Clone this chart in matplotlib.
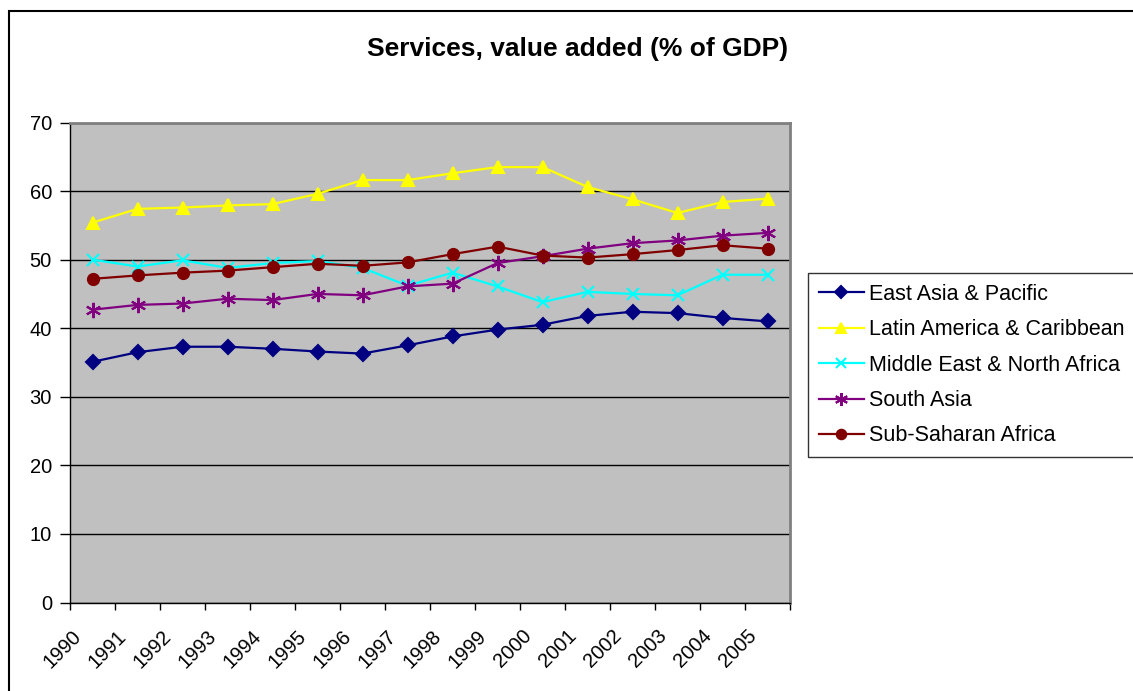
import matplotlib
matplotlib.use('Agg')
import matplotlib.pyplot as plt
import matplotlib.transforms as mtransforms
from matplotlib.patches import Rectangle
import numpy as np

plt.rcParams['font.family'] = ['Liberation Sans', 'DejaVu Sans']

years = [str(y) for y in range(1990, 2006)]

east_asia = [35.1, 36.5, 37.3, 37.3, 37.0, 36.6, 36.3, 37.5,
             38.8, 39.8, 40.5, 41.8, 42.4, 42.2, 41.5, 41.0]
latin_america = [55.4, 57.4, 57.6, 57.9, 58.1, 59.6, 61.6, 61.6,
                 62.6, 63.5, 63.5, 60.6, 58.8, 56.8, 58.4, 58.9]
middle_east = [50.0, 49.0, 49.9, 48.8, 49.5, 49.8, 48.8, 46.2,
               48.1, 46.1, 43.8, 45.3, 45.0, 44.8, 47.8, 47.8]
south_asia = [42.7, 43.4, 43.6, 44.3, 44.1, 45.0, 44.8, 46.1,
              46.5, 49.5, 50.5, 51.6, 52.4, 52.8, 53.5, 53.9]
sub_saharan = [47.2, 47.7, 48.1, 48.4, 48.9, 49.4, 49.1, 49.6,
               50.8, 51.9, 50.6, 50.3, 50.8, 51.4, 52.1, 51.6]

series = [
    ('East Asia & Pacific', east_asia, '#000080', 'D', 7),
    ('Latin America & Caribbean', latin_america, '#FFFF00', '^', 9),
    ('Middle East & North Africa', middle_east, '#00FFFF', 'x', 9),
    ('South Asia', south_asia, '#800080', (6, 2, 0), 11),
    ('Sub-Saharan Africa', sub_saharan, '#800000', 'o', 8),
]

fig = plt.figure(figsize=(11.33, 6.91), dpi=100)
ax = fig.add_axes([70 / 1133, 1 - 602.5 / 691, 720 / 1133, 480 / 691])
ax.set_facecolor('#C0C0C0')

x = np.arange(len(years))
for name, vals, color, marker, ms in series:
    ax.plot(x, vals, color=color, marker=marker, markersize=ms,
            markeredgewidth=1.5, linewidth=1.6, label=name)

ax.set_xlim(-0.5, len(years) - 0.5)
ax.set_ylim(0, 70)
ax.set_yticks(range(0, 71, 10))
ax.yaxis.grid(True, color='black', linewidth=1)
ax.set_axisbelow(True)

# category labels sit at the centres, tick marks at the boundaries
ax.set_xticks(x)
ax.set_xticks(np.arange(-0.5, len(years)), minor=True)
ax.tick_params(axis='x', which='major', length=0, pad=22)
ax.tick_params(axis='x', which='minor', length=5, width=1, direction='out')
ax.tick_params(axis='y', length=7, width=1, direction='out', pad=6)
ax.tick_params(labelsize=14.5)
ax.set_xticklabels(years, rotation=45, ha='right', va='center',
                   rotation_mode='anchor')
shift = mtransforms.ScaledTranslation(-14 / 100, 0, fig.dpi_scale_trans)
for tick in ax.xaxis.get_major_ticks():
    tick.label1.set_transform(tick.label1.get_transform() + shift)

for side in ('top', 'right'):
    ax.spines[side].set_color('#808080')
    ax.spines[side].set_linewidth(2)
for side in ('left', 'bottom'):
    ax.spines[side].set_color('black')
    ax.spines[side].set_linewidth(1)

fig.text(578 / 1133, 1 - 49 / 691, 'Services, value added (% of GDP)',
         ha='center', va='center', fontsize=19, fontweight='bold')

leg = ax.legend(loc='upper left', bbox_to_anchor=(808 / 1133, 1 - 273 / 691),
                bbox_transform=fig.transFigure, frameon=True, fancybox=False,
                edgecolor='black', fontsize=15.5, borderpad=0.5,
                labelspacing=0.67, handlelength=2.1, handletextpad=0.22,
                borderaxespad=0, markerscale=0.85)
leg.get_frame().set_linewidth(1)

# outer chart frame
fig.patches.append(Rectangle((9 / 1133, -0.01), 1.1, 1 - 11 / 691 + 0.01,
                             transform=fig.transFigure, fill=False,
                             edgecolor='black', linewidth=1.5))

fig.savefig('out.png', dpi=100)
